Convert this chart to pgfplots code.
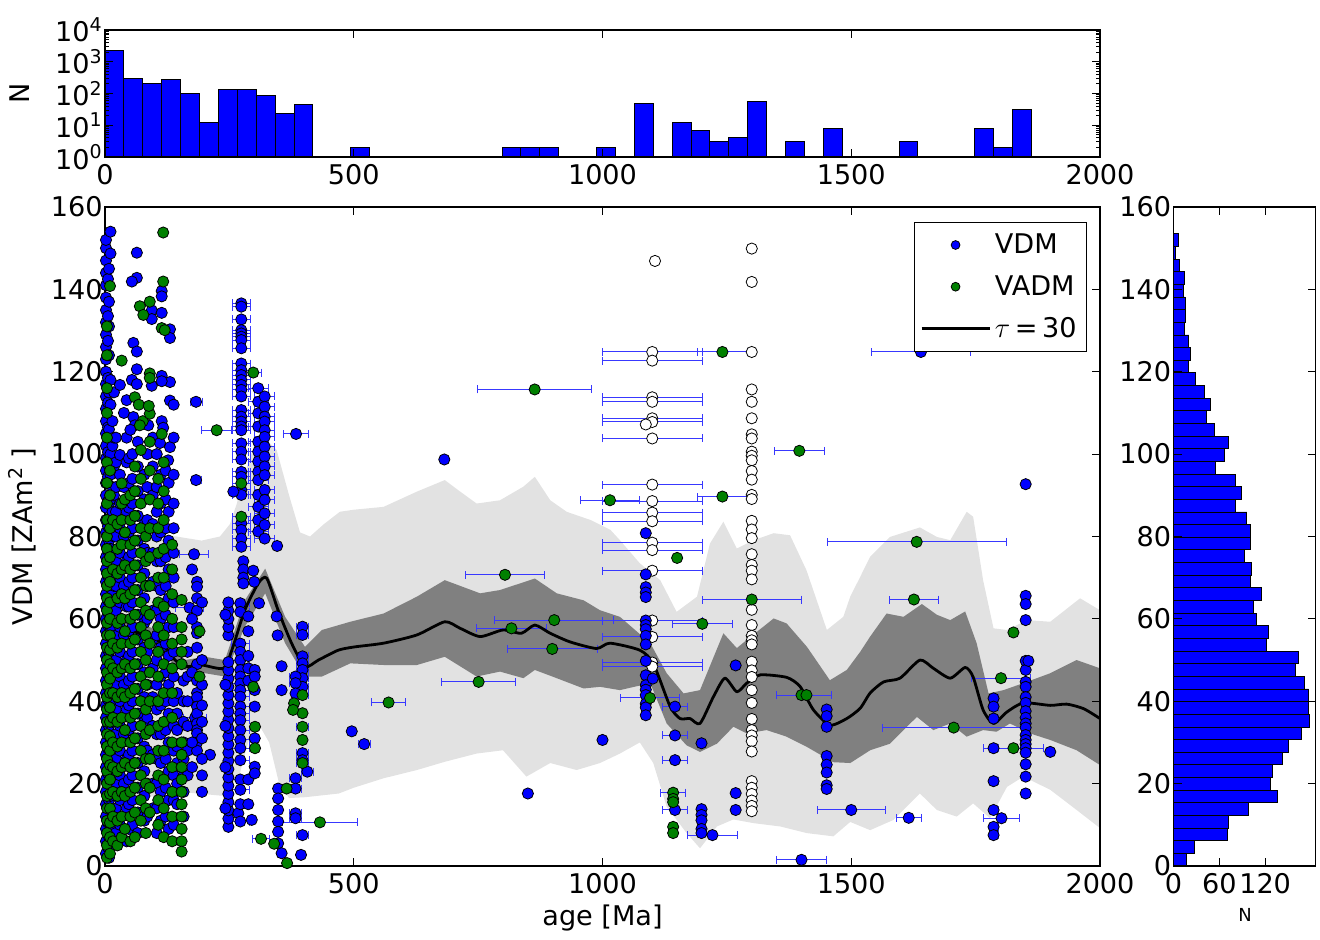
\documentclass[border=0pt]{standalone}
\usepackage{fontspec}
\setmainfont{DejaVu Sans}
\usepackage{pgfplots}
\pgfplotsset{compat=1.18}
\definecolor{mblue}{rgb}{0,0,1}
\definecolor{mgreen}{rgb}{0,0.5,0}
\definecolor{errb}{rgb}{0.22,0.22,1}
\definecolor{lband}{rgb}{0.886,0.886,0.886}
\definecolor{dband}{rgb}{0.5,0.5,0.5}
\newcommand{\fs}{\fontsize{13.6}{15}\selectfont}
\pgfplotsset{
  mystyle/.style={scale only axis, anchor=south west, axis on top, tick align=inside,
    major tick length=4bp, minor tick length=2bp, tick style={black, line width=0.5bp},
    axis line style={line width=0.6bp},
    /pgf/number format/assume math mode=true, /pgf/number format/1000 sep={},
    scaled ticks=false, tick label style={font=\fs}, label style={font=\fs},
    yticklabel style={inner xsep=1bp}},
  bluemk/.style={only marks, mark=*, mark size=2.8bp, mark options={fill=mblue, draw=black, line width=0.4pt}},
  greenmk/.style={only marks, mark=*, mark size=2.8bp, mark options={fill=mgreen, draw=black, line width=0.4pt}},
  whitemk/.style={only marks, mark=*, mark size=2.8bp, mark options={fill=white, draw=black, line width=0.4pt}},
}
\begin{document}
\begin{tikzpicture}
\useasboundingbox (0bp,0bp) rectangle (660bp,470bp);
% ---------------- top histogram ----------------
\begin{axis}[mystyle, at={(52.5bp,391.5bp)}, width=497.5bp, height=63.5bp,
  xmin=0, xmax=2000, ymode=log, ymin=1, ymax=10000,
  xtick={0,500,1000,1500,2000}, ytick={1,10,100,1000,10000},
  yticklabels={10\textsuperscript{0},10\textsuperscript{1},10\textsuperscript{2},10\textsuperscript{3},10\textsuperscript{4}},
  ylabel={N}, ylabel style={at={(axis description cs:-0.0854,0.5)}, anchor=center}]
\addplot[ybar, bar width=38, bar shift=0pt, fill=mblue, draw=black, line width=0.5bp] coordinates {
(19,2300)(57,292)(95,208)(133,272)(171,100)(209,12)(247,131)(285,137)(323,88)(361,23)(399,46)
(513,2)(817,2)(855,2)(893,2)(1007,2)(1083,49)(1159,12)(1197,7)(1235,3)(1273,4)(1311,57)
(1387,3)(1463,8)(1615,3)(1767,8)(1805,2)(1843,31)};
\end{axis}
% ---------------- right histogram ----------------
\begin{axis}[mystyle, at={(586.75bp,37bp)}, width=71bp, height=329.5bp,
  xmin=0, xmax=186, ymin=0, ymax=160, xtick={0,60,120}, ytick={0,20,...,160},
  xlabel={N}, xlabel style={font=\fontsize{9}{10}\selectfont, at={(axis description cs:0.5035,-0.0744)}, anchor=center}]
\addplot[xbar, bar width=3.07, bar shift=0pt, fill=mblue, draw=black, line width=0.4bp] coordinates {
(17,1.535)(27,4.605)(70,7.675)(72,10.745)(98,13.815)(136,16.885)(127,19.955)(130,23.025)(143,26.095)(150,29.165)
(167,32.235)(178,35.305)(177,38.375)(177,41.445)(171,44.515)(159,47.585)(163,50.655)(122,53.725)(124,56.795)(109,59.865)
(105,62.935)(115,66.005)(101,69.075)(102,72.145)(93,75.215)(101,78.285)(101,81.355)(96,84.425)(81,87.495)(89,90.565)
(81,93.635)(55,96.705)(66,99.775)(72,102.845)(54,105.915)(43,108.985)(48,112.055)(41,115.125)(29,118.195)(20,121.265)
(22,124.335)(20,127.405)(14,130.475)(16,133.545)(15,136.615)(13,139.685)(14,142.755)(8,145.825)(3,148.895)(6,151.965)};
\end{axis}
% ---------------- main axis ----------------
\begin{axis}[mystyle, at={(52.5bp,37bp)}, width=497.5bp, height=329.5bp,
  xmin=0, xmax=2000, ymin=0, ymax=160,
  xtick={0,500,1000,1500,2000}, ytick={0,20,...,160},
  xlabel={age [Ma]}, ylabel={VDM [ZAm\textsuperscript{2} ]},
  xlabel style={at={(axis description cs:0.5,-0.0789)}, anchor=center},
  ylabel style={at={(axis description cs:-0.0834,0.5)}, anchor=center},
  legend style={at={(0.987,0.977)}, anchor=north east, draw=black, line width=0.5bp, fill=white,
    font=\fs, row sep=5.5bp, inner xsep=3bp, inner ysep=3.5bp},
  legend cell align=left]
% light band
\addplot[fill=lband, draw=none, forget plot] coordinates {
(0,82)(50,81)(100,80)(144,80)(194,79)(231,80)(251,83)(265,88)(280,95)(300,102)(320,104)(345,101)(370,90)(392,81)(412,80)(440,83)(472,86)(500,86.5)(560,87.2)(627,90.9)(683,93.7)(714,90.9)(747,88)(794,88.8)(841,92.1)(864,94.5)(895,88.8)(928,86)(976,84)(1016,81.6)(1035,79.1)(1075,73.5)(1116,69.4)(1149,61.7)(1190,65.4)(1216,78.3)(1243,83.6)(1270,77.1)(1304,79.1)(1344,80.8)(1377,80.3)(1410,71.8)(1451,57.3)(1484,60.5)(1498,65.4)(1518,70.2)(1538,75.1)(1578,79.9)(1638,82.2)(1672,79.9)(1699,79.1)(1732,86)(1745,84.8)(1765,69.4)(1786,57.7)(1813,57.3)(1853,59.7)(1900,59.3)(1960,65)(2000,62.1)
(2000,9.2)(1953,13.6)(1900,18.5)(1846,21.7)(1813,19.2)(1779,11.6)(1745,15.2)(1712,12.0)(1672,13.6)(1638,17.6)(1585,11.2)(1538,8.7)(1498,10.7)(1464,7.2)(1410,8.0)(1357,9.6)(1304,10.4)(1263,11.3)(1230,9.6)(1196,4.3)(1169,8.0)(1129,14.4)(1102,25)(1075,30)(1035,27.3)(995,25)(948,23.3)(895,25)(847,21.7)(800,28.1)(747,27.3)(683,25.3)(627,23.3)(560,21.3)(500,19)(470,17.6)(402,16.7)(370,16.5)(350,20)(330,30)(308,34.6)(290,31)(270,22)(240,17)(150,18)(100,17)(0,15)} -- cycle;
% dark band
\addplot[fill=dband, draw=none, forget plot] coordinates {
(0,63)(50,60)(100,57.5)(140,53)(161,50)(201,50.8)(241,50)(281,64.5)(322,72.2)(362,60.5)(402,53.2)(436,57.3)(493,59.3)(560,61.3)(627,65.4)(683,69.4)(754,66.2)(794,67)(864,69.8)(908,66.2)(962,64.5)(995,62.1)(1035,60.5)(1096,54.1)(1129,46.8)(1163,41.9)(1196,42.7)(1243,56.5)(1270,52.9)(1290,54.9)(1344,60.1)(1370,58.9)(1411,53.2)(1457,45.1)(1491,47.6)(1518,52)(1538,55.7)(1571,61.3)(1605,60.5)(1642,63.6)(1672,61)(1699,59.7)(1729,61.8)(1752,54.1)(1776,41.9)(1806,42.7)(1846,44.4)(1900,46.8)(1953,50)(2000,48)
(2000,24.5)(1953,28.1)(1900,30.6)(1859,32.2)(1819,34.6)(1792,32.6)(1765,33)(1732,31.4)(1699,34.6)(1665,33)(1632,36.2)(1605,33)(1578,29.7)(1538,28.1)(1498,25)(1464,25.2)(1411,28.9)(1370,31.4)(1330,33)(1290,32.2)(1263,33.8)(1230,29.7)(1196,27.7)(1169,29.3)(1129,34.6)(1096,44.4)(1035,42.7)(995,43.5)(962,43.1)(908,45.6)(864,47.6)(841,45.6)(794,47.2)(747,46)(683,50.8)(627,48.8)(560,48.8)(493,49.2)(436,46)(402,46)(362,54.1)(322,66.2)(281,58.1)(241,46)(201,46.8)(161,47.6)(140,49)(100,53)(50,56)(0,58)} -- cycle;
% error bars
\addplot[forget plot, draw=none, mark=none, error bars/.cd, x dir=both, x explicit,
  error bar style={draw=errb, line width=0.5bp}, error mark options={draw=errb, line width=0.5bp, mark size=2bp, rotate=90}] coordinates {
(30,116.8)+-(7,0) (183,112.7)+-(12,0) (183,93.7)+-(10,0) (179,75.7)+-(30,0) (170,62.7)+-(28,0) (211,27)+-(8,0) (181,36)+-(24,0) (268,12.8)+-(8,0)
(274,136.6)+-(18,0)(274,135.8)+-(18,0)(274,132.7)+-(18,0)(274,130.1)+-(18,0)(274,129.3)+-(18,0)(274,128.5)+-(18,0)(274,127.7)+-(18,0)(274,125.7)+-(18,0)(274,122.0)+-(18,0)(274,120.4)+-(18,0)(274,119.2)+-(18,0)(274,118)+-(18,0)(274,116.8)+-(18,0)(274,115.6)+-(18,0)(274,114)+-(18,0)(274,110.7)+-(18,0)(274,109.1)+-(18,0)(274,107.9)+-(18,0)(274,106.7)+-(18,0)(274,105.8)+-(18,0)(274,102.6)+-(18,0)(274,100.6)+-(18,0)(274,98.7)+-(18,0)(274,95.7)+-(18,0)(274,94.5)+-(18,0)(274,91.3)+-(18,0)(274,90.1)+-(18,0)(274,83.2)+-(18,0)(274,81.6)+-(18,0)(274,79.5)+-(18,0)(274,77.5)+-(18,0)(274,92.9)+-(18,0)(274,84.8)+-(18,0)(298,119.8)+-(16,0)
(272,63.8)+-(18,0)(272,61.7)+-(18,0)(272,54)+-(18,0)(272,52)+-(18,0)(272,50)+-(18,0)(272,47.6)+-(18,0)(272,46)+-(18,0)(272,44.3)+-(18,0)(272,42.7)+-(18,0)(272,41.1)+-(18,0)(272,38.7)+-(18,0)(272,37)+-(18,0)(272,35.4)+-(18,0)(272,33)+-(18,0)(272,30.6)+-(18,0)(272,28.6)+-(18,0)(272,25.7)+-(18,0)(272,21)+-(18,0)(272,18.5)+-(18,0)(272,15)+-(18,0)(272,10.8)+-(18,0)
(308,116)+-(20,0)(308,112.7)+-(20,0)(308,109.9)+-(20,0)(308,106.7)+-(20,0)(308,103)+-(20,0)(308,100.6)+-(20,0)(308,98.2)+-(20,0)(308,95.7)+-(20,0)(308,93.7)+-(20,0)(308,90.1)+-(20,0)(308,87.2)+-(20,0)(308,84)+-(20,0)(308,81.2)+-(20,0)
(321,114)+-(20,0)(321,111.5)+-(20,0)(321,109.1)+-(20,0)(321,107.9)+-(20,0)(321,105.8)+-(20,0)(321,104.2)+-(20,0)(321,101.8)+-(20,0)(321,99.4)+-(20,0)(321,97)+-(20,0)(321,94.9)+-(20,0)(321,91.3)+-(20,0)(321,88.9)+-(20,0)(321,85.6)+-(20,0)(321,82.8)+-(20,0)(321,79.5)+-(20,0)
(384,104.9)+-(25,0)(313.6,6.6)+-(18,0)
(397,58.1)+-(12,0)(397,56.1)+-(12,0)(397,50.9)+-(12,0)(397,49.2)+-(12,0)(397,47.6)+-(12,0)(397,45.6)+-(12,0)(397,43.5)+-(12,0)(397,27.4)+-(12,0)(397,25.7)+-(12,0)(397,7.5)+-(12,0)(397,41.5)+-(12,0)(397,33.8)+-(12,0)(397,25)+-(12,0)
(383,46)+-(12,0)(383,44.4)+-(12,0)(383,21.3)+-(12,0)(383,18.8)+-(12,0)(383,12.8)+-(12,0)(383,11.6)+-(12,0)(406.7,22.9)+-(12,0)
(521,29.6)+-(12,0)(432,10.6)+-(75,0)(570,39.7)+-(35,0)(224.5,105.8)+-(30,0)(751,44.7)+-(75,0)(804,70.7)+-(80,0)(817,57.7)+-(70,0)(899,52.7)+-(90,0)(903,59.7)+-(120,0)(863.7,115.7)+-(115,0)(1015,88.8)+-(60,0)
(1241,124.8)+-(50,0)(1241,89.7)+-(50,0)(1395.6,100.8)+-(50,0)(1200.6,58.8)+-(60,0)(1095.5,40.8)+-(60,0)(1300,64.7)+-(100,0)(1405,41.5)+-(55,0)(1631.5,78.7)+-(180,0)(1626,64.7)+-(50,0)(1706,33.6)+-(143,0)(1801,45.6)+-(60,0)(1826,28.6)+-(60,0)(1142,17.8)+-(25,0)
(1100,124.8)+-(100,0)(1100,122.7)+-(100,0)(1100,113.8)+-(100,0)(1100,112.7)+-(100,0)(1100,108.7)+-(100,0)(1100,107.8)+-(100,0)(1100,103.8)+-(100,0)(1100,92.6)+-(100,0)(1100,88.6)+-(100,0)(1100,85.8)+-(100,0)(1100,83.7)+-(100,0)(1100,78.5)+-(100,0)(1100,76.7)+-(100,0)(1100,71.7)+-(100,0)(1100,59.6)+-(100,0)(1100,55.6)+-(100,0)(1100,49.4)+-(100,0)(1100,48.4)+-(100,0)
(1145.7,38.7)+-(25,0)(1145.7,31.7)+-(25,0)(1145.7,25.7)+-(25,0)(1145.7,13.6)+-(25,0)(1221,7.5)+-(50,0)(1400,1.5)+-(50,0)(1500,13.6)+-(68,0)(1615.5,11.7)+-(25,0)(1640,124.8)+-(100,0)
(1786,40.7)+-(9,0)(1786,38.7)+-(9,0)(1786,35.8)+-(9,0)(1786,28.6)+-(9,0)(1786,20.6)+-(9,0)(1786,13.6)+-(9,0)(1786,9.5)+-(9,0)(1786,7.5)+-(9,0)(1802,11.6)+-(36,0)};
% white points
\addplot[whitemk, forget plot] coordinates {
(1100,124.8)(1100,122.7)(1100,113.8)(1100,112.7)(1100,108.7)(1100,107.8)(1100,103.8)(1100,92.6)(1100,88.6)(1100,85.8)(1100,83.7)(1100,78.5)(1100,76.7)(1100,71.7)(1100,59.6)(1100,55.6)(1100,49.4)(1100,48.4)(1105.5,146.9)(1087,107.2)
(1300,149.9)(1300,141.8)(1300,124.8)(1300,115.7)(1300,112.7)(1300,108.7)(1300,104.8)(1300,103.8)(1300,100.6)(1300,99.6)(1300,98.5)(1300,95.9)(1300,93.8)(1300,90.1)(1300,89.1)(1300,83.8)(1300,81.7)(1300,79.6)(1300,75.7)(1300,73.1)(1300,71.7)(1300,69.6)(1300,62.2)(1300,58.5)(1300,55.9)(1300,54.8)(1300,53.8)(1300,49.6)(1300,47.5)(1300,45.9)(1300,42.7)(1300,39.6)(1300,35.7)(1300,33.0)(1300,31.7)(1300,30.3)(1300,27.8)(1300,20.6)(1300,19.0)(1300,17.5)(1300,15.9)(1300,14.6)(1300,13.3)};
% blue points
\addplot[bluemk, forget plot] coordinates {
(2,3)(2,6)(2,9)(2,12)(2,15)(2,18)(2,21)(2,24)(2,27)(2,30)(2,33)(2,36)(2,39)(2,42)(2,45)(2,48)(2,51)(2,54)(2,57)(2,60)(2,63)(2,66)(2,69)(2,72)(2,75)(2,78)(2,81)(2,84)(2,87)(2,90)(2,93)(2,96)(2,99)(2,102)(2,105)(2,108)(2,111)(2,114)(2,117)(2,120)(2,123)(2,126)(2,129)(2,132)(2,135)(2,138)(2,141)(2,144)(2,147)(2,150)(2,152)
(6,4.5)(6,10.5)(6,16.5)(6,22.5)(6,28.5)(6,34.5)(6,40.5)(6,46.5)(6,52.5)(6,58.5)(6,64.5)(6,70.5)(6,76.5)(6,82.5)(6,88.5)(6,94.5)(6,100.5)(6,106.5)(6,112.5)(6,118.5)(6,127.5)(6,133.5)(6,142.5)
(8,2)(8,7)(8,11)(8,16)(8,25)(8,34)(8,43)(8,52)(8,61)(8,70)(8,79)(8,88)(8,97)(8,106)(8,115)(8,124)(8,131)(8,137)(8,145)
(11,154)(11,148.7)(11,118)(11,112)(11,100)(11,95)(11,89)(11,83)(11,77)(11,71)(11,65)(11,58)(11,50)(11,44)(11,38)(11,31)(11,24)(11,17)(11,10)
(15,108)(15,102)(15,92)(15,86)(15,74)(15,66)(15,55)(15,47)(15,35)(15,28)(15,20)(15,13)(15,5)
(18,115)(18,104)(18,97)(18,90)(18,80)(18,68)(18,62)(18,40)(18,30)
(22,8)(22,14)(22,20)(22,26)(22,32)(22,38)(22,44)(22,50)(22,56)(22,62)(22,68)(22,74)(22,80)(22,86)(22,92)(22,98)(22,104)
(30,116.8)(30,99.8)(30,95)(30,88)(30,82)(30,76)(30,70)(30,64)(30,58)(30,52)(30,46)(30,40)(30,34)(30,28)(30,22)(30,16)(30,10)
(43.5,113.1)(43.5,104)(43.5,98)(43.5,86)(43.5,74)(43.5,63)(43.5,50)(43.5,38)(43.5,26)(43.5,14)(43.5,6)
(38,110)(38,92)(38,80)(38,68)(38,56)(38,44)(38,32)(38,20)
(48,9)(48,15)(48,21)(48,27)(48,33)(48,39)(48,45)(48,51)(48,57)(48,63)(48,69)(48,75)(48,81)(48,87)(48,93)(48,99)
(64,148.9)(64,142.8)(54,141.9)(57,127)(64,124.9)(54,118)(64,117)(64,120.6)(57,109)(60,107)(51,105.9)
(55,100)(55,94)(55,88)(55,82)(55,76)(55,70)(55,64)(55,58)(55,52)(55,46)(55,40)(55,34)(55,28)(55,22)(55,16)(55,10)
(66,103)(66,97)(66,91)(66,85)(66,79)(66,73)(66,67)(66,61)(66,55)(66,49)(66,43)(66,37)(66,31)(66,25)(66,19)(66,13)(66,8)
(79,11)(79,17)(79,23)(79,29)(79,35)(79,41)(79,47)(79,53)(79,59)(79,65)(79,71)(79,77)(79,83)(79,89)(79,95)
(94,134.9)(94,132.8)(94,116.6)(87,107)
(85,100)(85,92)(85,84)(85,76)(85,68)(85,60)(85,52)(85,44)(85,36)(85,28)(85,20)(85,12)
(96,104)(96,97)(96,90)(96,83)(96,76)(96,69)(96,62)(96,55)(96,48)(96,41)(96,34)(96,27)(96,20)(96,14)
(104,8)(104,14)(104,20)(104,26)(104,32)(104,38)(104,44)(104,50)(104,56)(104,62)(104,68)(104,74)(104,80)(104,86)(104,92)(104,100)
(114,139.6)(114,138.3)(114,134.3)(114,119)(130.6,117.5)(114,117.7)(130.6,130.3)(130.6,128.2)(130.6,113)(114,108)(117,106.4)(110.5,102.7)(130.6,101.7)(127,98.5)
(112,95)(112,88)(112,81)(112,74)(112,67)(112,60)(112,53)(112,46)(112,39)(112,32)(112,25)(112,18)(112,11)
(122,12)(122,19)(122,26)(122,33)(122,40)(122,47)(122,54)(122,61)(122,68)(122,75)(122,82)(122,89)(122,96)
(128,93)(128,86)(128,79)(128,72)(128,65)(128,58)(128,51)(128,44)(128,37)(128,30)(128,23)(128,16)(128,9)
(138,10)(138,16)(138,22)(138,28)(138,34)(138,40)(138,46)(138,52)(138,58)(138,64)(138,70)(138,76)(138,82)(138,88)(138,95)(138,104)(138,112)
(145,42)(145,37)(145,33)(145,29)(145,25)(145,20)(145,15)
(158,45)(158,40)(158,35)(158,30)(158,26)(158,22)(158,18)(158,12)
(166,22)(166,28)(166,34)(166,40)(166,46)(166,52)
(183,112.7)(183,93.7)(179,75.7)(170,62.7)(211,27)(181,36)
(185,69)(185,67.8)(185,65)(185,62)(185,58)(185,56.5)(185,53)(185,49)(185,45)(185,42)(185,41)(185,38.7)(185,37)(185,34.6)(185,33)(185,32.2)(185,30)(185,28)
(195,64)(195,50)(195,44)(195,39)(195,35)(195,31)(195,26)(195,22)(195,18)
(175,72)(175,60)(175,47)(175,30)(175,24)
(248,9.5)(248,11.5)(248,13.5)(248,15.5)(248,17.5)(248,19.5)(248,21.5)(248,23.5)(248,25.5)(248,27.5)(248,29.5)(248,31.5)(248,33.5)(248,35.5)(248,37.5)(248,39.5)(248,41.5)(248,43.5)(248,45.5)(248,47.5)(248,49.5)(248,56)(248,58)(248,60)(248,62)(248,64)
(242,14)(242,24)(242,34)(242,44)(242,61)(268,12.8)
(274,136.6)(274,135.8)(274,132.7)(274,130.1)(274,129.3)(274,128.5)(274,127.7)(274,125.7)(274,122.0)(274,120.4)(274,119.2)(274,118)(274,116.8)(274,115.6)(274,114)(274,110.7)(274,109.1)(274,107.9)(274,106.7)(274,105.8)(274,102.6)(274,100.6)(274,98.7)(274,95.7)(274,94.5)(274,91.3)(274,90.1)(274,83.2)(274,81.6)(274,79.5)(274,77.5)
(258,90.9)(278,74)(278,72)(278,70)(278,68.6)
(272,63.8)(272,61.7)(272,54)(272,52)(272,50)(272,47.6)(272,46)(272,44.3)(272,42.7)(272,41.1)(272,38.7)(272,37)(272,35.4)(272,33)(272,30.6)(272,28.6)(272,25.7)(272,21)(272,18.5)(272,15)(272,10.8)
(288,60.6)(288,57)(288,51)(288,48)(288,45)(288,21)(288,15)
(308,116)(308,112.7)(308,109.9)(308,106.7)(308,103)(308,100.6)(308,98.2)(308,95.7)(308,93.7)(308,90.1)(308,87.2)(308,84)(308,81.2)
(321,114)(321,111.5)(321,109.1)(321,107.9)(321,105.8)(321,104.2)(321,101.8)(321,99.4)(321,97)(321,94.9)(321,91.3)(321,88.9)(321,85.6)(321,82.8)(321,79.5)
(346,77.7)(309.6,63.8)(298,71.7)(300,69)(301,47.6)(301,46)(301,42.7)(301,38.7)(301,31)(301,24.1)(301,22.5)(295,11.2)(345,60.6)(347,56)(355,48.5)(355,42.7)(384,104.9)
(348,18.8)(348,16.4)(348,13.6)(348,10.8)(348,8.3)(348,5.5)(355,3.1)(394,2.7)
(397,58.1)(397,56.1)(397,50.9)(397,49.2)(397,47.6)(397,45.6)(397,43.5)(397,27.4)(397,25.7)(397,7.5)
(383,46)(383,44.4)(383,41.9)(383,21.3)(383,18.8)(383,12.8)(383,11.6)(406.7,22.9)
(496,32.7)(521,29.6)(682,98.7)(850,17.6)(1000,30.6)
(1087,80.8)(1087,70.8)(1087,67.7)(1087,66.4)(1087,65.3)(1087,59.6)(1087,58.5)(1087,57.5)(1087,55.9)(1087,53.8)(1087,49.8)(1087,46.3)(1087,43.9)(1087,42.8)(1087,41.5)(1087,39.4)(1087,38.5)(1087,36.6)(1101,45.5)
(1145.7,38.7)(1145.7,31.7)(1145.7,25.7)(1145.7,13.6)
(1199,29.8)(1199,13.8)(1199,12.4)(1199,11.1)(1199,9)(1199,8)(1221,7.5)
(1267.7,48.7)(1267.7,17.7)(1267.7,13.6)(1400,1.5)
(1450.6,38)(1450.6,36.4)(1450.6,33.8)(1450.6,26.7)(1450.6,24.6)(1450.6,22.7)(1450.6,19.6)(1450.6,18.7)
(1500,13.6)(1615.5,11.7)(1640,124.8)
(1786,40.7)(1786,38.7)(1786,35.8)(1786,28.6)(1786,20.6)(1786,13.6)(1786,9.5)(1786,7.5)(1802,11.6)
(1850.6,92.7)(1850.6,65.6)(1850.6,63.6)(1850.6,59.7)(1850.6,49.8)(1850.6,47.6)(1850.6,44.7)(1850.6,43.5)(1850.6,41)(1850.6,39.6)(1850.6,37.6)(1850.6,36)(1850.6,34.6)(1850.6,33.6)(1850.6,31.8)(1850.6,30.6)(1850.6,29.6)(1850.6,28.6)(1850.6,27.5)(1850.6,24.7)(1850.6,21.7)(1850.6,17.6)(1856,49.8)(1900,27.7)};
% green points
\addplot[greenmk, forget plot] coordinates {
(4,2)(4,5)(4,8)(4,11)(4,14)(4,17)(4,20)(4,23)(4,26)(4,29)(4,32)(4,35)(4,38)(4,41)(4,44)(4,47)(4,50)(4,53)(4,56)(4,59)(4,62)(4,65)(4,68)(4,71)(4,74)(4,77)(4,80)(4,84)(4,88)(4,93)(4,98)(4,104)(4,110)(4,116)(4,124)(4,131)
(10,140.8)(10,3)(10,7)(10,10.5)(10,14)(10,17.5)(10,21)(10,24.5)(10,28)(10,31.5)(10,35)(10,38.5)(10,42)(10,45.5)(10,49)(10,52.5)(10,56)(10,60)(10,64)(10,69)(10,75)(10,82)(10,90)(10,96)
(16,6)(16,12)(16,18)(16,24)(16,30)(16,36)(16,42)(16,48)(16,54)(16,72)(16,84)
(25,5)(25,11)(25,17)(25,23)(25,29)(25,35)(25,41)(25,47)(25,53)(25,59)(25,65)(25,71)(25,77)(25,83)
(33.5,122.7)(33.5,92.9)(33.5,88)(33.5,84)(33.5,78)(33.5,72)(33.5,66)(33.5,60)(33.5,54)(33.5,48)(33.5,42)(33.5,36)(33.5,30)(33.5,24)(33.5,18)(33.5,12)(33.5,7)
(40,89)(40,81)(40,73)(40,65)(40,57)(40,49)(40,41)(40,33)(40,25)(40,17)(40,9)
(51,6)(51,12)(51,18)(51,24)(51,30)(51,36)(51,42)(51,48)(51,54)(51,60)(51,66)(51,72)(51,78)(51,84)(51,90)
(70,135.9)(77,133.8)(60,113.8)(68,112)(76,108)(70,107)
(60,97)(60,91)(60,85)(60,79)(60,73)(60,67)(60,61)(60,55)(60,49)(60,43)(60,37)(60,31)(60,25)(60,19)(60,13)(60,7)
(72,101)(72,94)(72,88)(72,82)(72,76)(72,70)(72,64)(72,58)(72,52)(72,46)(72,40)(72,34)(72,28)(72,22)(72,16)(72,11)
(82,8)(82,14)(82,20)(82,26)(82,32)(82,38)(82,44)(82,50)(82,56)(82,62)(82,68)(82,74)(82,80)
(90,137)(90,119.6)(90,118.5)(90,109.8)(88,111.7)
(90,103)(90,96)(90,89)(90,82)(90,75)(90,68)(90,61)(90,54)(90,47)(90,40)(90,33)(90,26)(90,19)(90,13)
(107,10)(107,16)(107,22)(107,28)(107,34)(107,40)(107,46)(107,52)(107,58)(107,64)(107,70)(107,76)(107,82)(107,88)(107,94)
(117,153.8)(117,141.9)(114,130.6)(120,130.1)(114,104.9)
(118,98)(118,91)(118,84)(118,77)(118,70)(118,63)(118,56)(118,49)(118,42)(118,35)(118,28)(118,21)(118,14)(118,7)
(135,6)(135,12)(135,18)(135,24)(135,30)(135,36)(135,42)(135,48)(135,54)(135,60)(135,66)(135,72)(135,78)
(154,64.6)(154,58)(154,55)(154,52)(154,49)(154,30)(154,27)(154,24)(154,21)(154,18)(154,15)(154,12)(154,9)(154,6)(154,3.5)
(190,57)(190,46)
(274,92.9)(274,84.8)(298,119.8)(298,43.5)(301.5,33.8)(301.5,28.6)
(365,18.8)(366,0.7)(313.6,6.6)(340,5.4)
(397,41.5)(397,37.1)(397,33.8)(397,30.6)(397,25)(380,39.5)(378,37.9)
(224.5,105.8)(432,10.6)(570,39.7)(751,44.7)(804,70.7)(817,57.7)(899,52.7)(903,59.7)(863.7,115.7)(1015,88.8)(1241,124.8)(1241,89.7)(1395.6,100.8)(1150,74.8)(1200.6,58.8)(1095.5,40.8)(1300,64.7)(1400,41.5)(1410,41.5)(1631.5,78.7)(1626,64.7)(1706,33.6)(1801,45.6)(1826,56.7)(1826,28.6)
(1142,17.8)(1142,16.3)(1142,15.5)(1142,9.5)(1142,8.0)};
% tau line
\addplot[black, line width=1.4bp, line join=round, smooth, tension=0.4, forget plot] coordinates {
(0,60.4)(43,57.5)(80,56.1)(114,54.1)(141,50)(161,48.4)(194,48.8)(238,48.0)(255,52.4)(281,62.1)(308,68.6)(325,69.9)(348,62.1)(375,54.1)(402,48.4)(429,50)(469,52.4)(502,53.2)(560,54.1)(627,56.1)(683,59.3)(714,57.7)(754,55.7)(800,57.3)(837,56.5)(864,58.5)(895,56.5)(935,54.4)(988,52.8)(1015,54.1)(1075,52.4)(1102,49.2)(1136,38.7)(1156,35.8)(1176,35.8)(1196,34.6)(1223,41.1)(1246,45.6)(1270,42.3)(1290,44.4)(1317,46.4)(1370,45.8)(1397,43.6)(1424,37.9)(1457,34.2)(1491,35.8)(1518,38.3)(1538,42)(1565,44.7)(1598,45.6)(1638,50)(1665,48)(1699,45.6)(1729,48.2)(1745,45.9)(1765,37.9)(1786,34.6)(1813,37.4)(1846,39.6)(1900,39)(1933,39.3)(1967,38.2)(2000,35.8)};
% legend
\addlegendimage{legend image code/.code={\draw[black, line width=0.4pt, fill=mblue] (17bp,0bp) circle (2.2bp);}}
\addlegendentry{VDM}
\addlegendimage{legend image code/.code={\draw[black, line width=0.4pt, fill=mgreen] (17bp,0bp) circle (2.2bp);}}
\addlegendentry{VADM}
\addlegendimage{legend image code/.code={\draw[black, line width=1.4bp] (0bp,0bp) -- (34bp,0bp);}}
\addlegendentry{$\tau$\,=\,30}
\end{axis}
\end{tikzpicture}
\end{document}
